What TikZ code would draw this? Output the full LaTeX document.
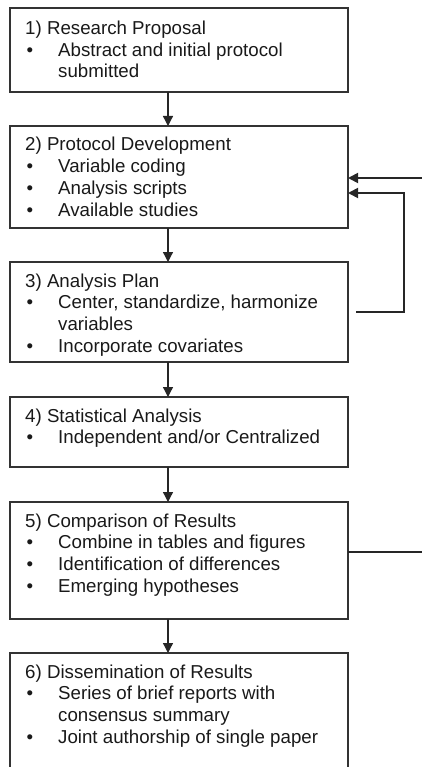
\documentclass[tikz,border=0pt]{standalone}
\usepackage{fontspec}
\setmainfont{Liberation Sans}
\usetikzlibrary{arrows.meta}
\newcommand{\bitem}[1]{\par\noindent\hangindent=33pt\hangafter=1\makebox[33pt][l]{\hspace{1.5pt}\textbullet}#1}
\begin{document}
\begin{tikzpicture}[x=1pt,y=-1pt,
  box/.style={draw=black!80, line width=1.6pt, anchor=north west, minimum width=338pt, inner sep=0pt, outer sep=0pt},
  txt/.style={anchor=base west, inner sep=0pt, text=black!90, font=\fontsize{18.7}{21.7}\selectfont},
  arr/.style={draw=black!85, line width=1.3pt, -{Triangle[length=10pt,width=10pt]}},
  fb/.style={draw=black!85, line width=1.8pt}]
\useasboundingbox (0,0) rectangle (422,767);
\clip (0,0) rectangle (422,767);
\coordinate (ax) at (168,0);
% boxes
\node[box, minimum height=84pt]  (b1) at (10,8) {};
\node[box, minimum height=102pt] (b2) at (10,126) {};
\node[box, minimum height=100pt] (b3) at (10,262) {};
\node[box, minimum height=70pt]  (b4) at (10,397) {};
\node[box, minimum height=117pt] (b5) at (10,502) {};
\node[box, minimum height=140pt] (b6) at (10,653) {};
% texts
\node[txt] (t1) at (25,34.5) {\parbox[t]{320pt}{1) Research Proposal\bitem{Abstract and initial protocol\\submitted}}};
\node[txt] (t2) at (25,151) {\parbox[t]{320pt}{2) Protocol Development\bitem{Variable coding}\bitem{Analysis scripts}\bitem{Available studies}}};
\node[txt] (t3) at (25,287) {\parbox[t]{320pt}{3) Analysis Plan\bitem{Center, standardize, harmonize\\variables}\bitem{Incorporate covariates}}};
\node[txt] (t4) at (25,422) {\parbox[t]{320pt}{4) Statistical Analysis\bitem{Independent and/or Centralized}}};
\node[txt] (t5) at (25,527) {\parbox[t]{320pt}{5) Comparison of Results\bitem{Combine in tables and figures}\bitem{Identification of differences}\bitem{Emerging hypotheses}}};
\node[txt] (t6) at (25,678) {\parbox[t]{320pt}{6) Dissemination of Results\bitem{Series of brief reports with\\consensus summary}\bitem{Joint authorship of single paper}}};
% vertical arrows
\draw[arr] (b1.south -| ax) -- (b2.north -| ax);
\draw[arr] (b2.south -| ax) -- (b3.north -| ax);
\draw[arr] (b3.south -| ax) -- (b4.north -| ax);
\draw[arr] (b4.south -| ax) -- (b5.north -| ax);
\draw[arr] (b5.south -| ax) -- (b6.north -| ax);
% right side feedback
\coordinate (inA) at (422,178);
\coordinate (fbA) at (356,312);
\coordinate (fbB) at (404,312);
\coordinate (fbC) at (404,193);
\coordinate (out5) at (422,552);
\draw[fb, -{Triangle[length=10pt,width=10pt]}] (inA) -- (inA -| b2.east);
\draw[fb, -{Triangle[length=10pt,width=10pt]}] (fbA) -- (fbB) -- (fbC) -- (fbC -| b2.east);
\draw[fb] (out5 -| b5.east) -- (out5);
\end{tikzpicture}
\end{document}
